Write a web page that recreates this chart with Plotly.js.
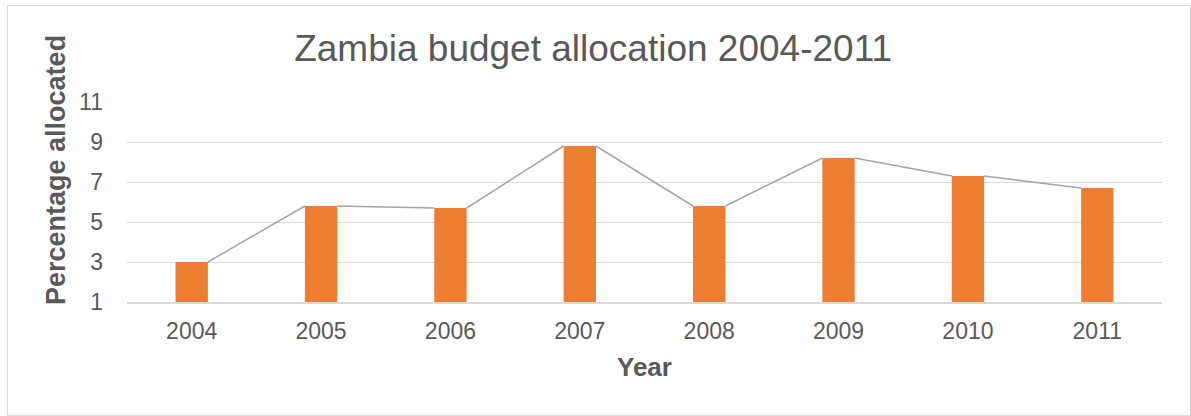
<!DOCTYPE html>
<html>
<head>
<meta charset="utf-8">
<script src="https://cdn.plot.ly/plotly-3.0.1.min.js"></script>
<style>
  html, body { margin: 0; padding: 0; background: #fff; }
  #wrap { position: relative; width: 1191px; height: 416px; }
  #frame { position: absolute; left: 7px; top: 5px; width: 1182px; height: 409px; border: 1px solid #D9D9D9; pointer-events: none; }
  #chart { position: absolute; left: 0; top: 0; width: 1191px; height: 416px; }
</style>
</head>
<body>
<div id="wrap">
  <div id="chart"></div>
  <div id="frame"></div>
</div>
<script>
const years = ['2004', '2005', '2006', '2007', '2008', '2009', '2010', '2011'];
const percentAllocated = [3.0, 5.8, 5.7, 8.8, 5.8, 8.2, 7.3, 6.7];
const yTicks = [1, 3, 5, 7, 9, 11];

const barWidth = 0.25;
const idx = years.map((_, i) => i);

// Excel-style series lines: connect the top-right corner of each bar to the top-left of the next
const lx = [], ly = [];
for (let i = 0; i < percentAllocated.length - 1; i++) {
  lx.push(i + barWidth / 2, i + 1 - barWidth / 2, null);
  ly.push(percentAllocated[i], percentAllocated[i + 1], null);
}

const font = 'Liberation Sans, Arial, sans-serif';
const grey = '#595959';

const traces = [
  {
    type: 'bar',
    x: idx,
    y: percentAllocated.map(v => v - 1),
    base: 1,
    width: barWidth,
    marker: { color: '#ED7D31' },
    customdata: percentAllocated,
    hovertemplate: '%{customdata}<extra></extra>'
  },
  {
    type: 'scatter',
    mode: 'lines',
    x: lx,
    y: ly,
    connectgaps: false,
    line: { color: '#A5A5A5', width: 1.5 },
    hoverinfo: 'skip'
  }
];

const layout = {
  width: 1191,
  height: 416,
  margin: { l: 127, r: 29, t: 102, b: 114 },
  paper_bgcolor: '#ffffff',
  plot_bgcolor: '#ffffff',
  showlegend: false,
  font: { family: font, color: grey, size: 23 },
  title: {
    text: 'Zambia budget allocation 2004-2011',
    font: { family: font, size: 37, color: grey },
    x: 0.498, xref: 'container', xanchor: 'center',
    y: 0.884, yref: 'container', yanchor: 'middle'
  },
  xaxis: {
    range: [-0.5, 7.5],
    tickmode: 'array',
    tickvals: idx,
    ticktext: years,
    showgrid: false,
    zeroline: false,
    showline: true,
    linecolor: '#D9D9D9',
    linewidth: 1.5,
    ticks: '',
    ticklabelstandoff: 8,
    tickfont: { family: font, size: 23, color: grey },
    fixedrange: true
  },
  yaxis: {
    range: [1, 11],
    tickmode: 'array',
    tickvals: yTicks,
    ticktext: yTicks.map(String),
    showgrid: true,
    gridcolor: '#D9D9D9',
    gridwidth: 1,
    zeroline: false,
    showline: false,
    ticks: '',
    ticklabelstandoff: 23,
    tickfont: { family: font, size: 23, color: grey },
    fixedrange: true
  },
  annotations: [
    {
      text: '<b>Percentage allocated</b>',
      textangle: -90,
      xref: 'paper', yref: 'paper',
      x: -0.0686, y: 0.66,
      xanchor: 'center', yanchor: 'middle',
      showarrow: false,
      font: { family: font, size: 27, color: grey }
    },
    {
      text: '<b>Year</b>',
      xref: 'paper', yref: 'paper',
      x: 0.5, y: -0.325,
      xanchor: 'center', yanchor: 'middle',
      showarrow: false,
      font: { family: font, size: 26, color: grey }
    }
  ]
};

Plotly.newPlot('chart', traces, layout, { displayModeBar: false, staticPlot: true });
</script>
</body>
</html>
